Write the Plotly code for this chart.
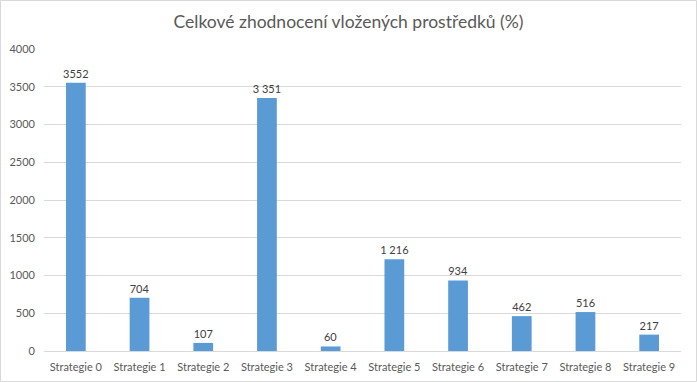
import plotly.graph_objects as go

categories = ["Strategie 0", "Strategie 1", "Strategie 2", "Strategie 3", "Strategie 4",
              "Strategie 5", "Strategie 6", "Strategie 7", "Strategie 8", "Strategie 9"]
values = [3552, 704, 107, 3351, 60, 1216, 934, 462, 516, 217]
value_labels = ["3552", "704", "107", "3 351", "60", "1 216", "934", "462", "516", "217"]
y_ticks = [0, 500, 1000, 1500, 2000, 2500, 3000, 3500, 4000]

W, H = 697, 382
L, R, T, B = 44, 16, 49, 31
pw, ph = W - L - R, H - T - B

fig = go.Figure(go.Bar(
    x=categories, y=values, text=value_labels, textposition="outside",
    constraintext="none", hoverinfo="skip",
    textfont=dict(family="Lato, Open Sans, sans-serif", size=11, color="#404040"),
    marker=dict(color="#5B9BD5", line=dict(width=0)),
    width=0.31, cliponaxis=False,
))

fig.update_layout(
    width=W, height=H,
    margin=dict(l=L, r=R, t=T, b=B, autoexpand=False),
    paper_bgcolor="white", plot_bgcolor="white",
    title=dict(text="Celkové zhodnocení vložených prostředků (%)", x=0.5, xanchor="center",
               y=1 - 22 / H, yanchor="middle",
               font=dict(family="Lato, Open Sans, sans-serif", size=17.5, color="#595959")),
    font=dict(family="Lato, Open Sans, sans-serif", size=11, color="#595959"),
    showlegend=False,
    xaxis=dict(showgrid=False, showline=True, linecolor="#D9D9D9", linewidth=1,
               ticks="", automargin=False, ticklabelstandoff=6,
               tickfont=dict(size=11, color="#595959")),
    yaxis=dict(range=[0, 4000], tickvals=y_ticks, showgrid=True, gridcolor="#D9D9D9",
               gridwidth=1, zeroline=False, showline=False, ticks="", automargin=False,
               tickfont=dict(size=11, color="#595959"), ticklabelstandoff=8),
    shapes=[dict(type="rect", xref="paper", yref="paper",
                 x0=(0.5 - L) / pw, x1=(W - 0.5 - L) / pw,
                 y0=(H - B - (H - 0.5)) / ph, y1=(H - B - 0.5) / ph,
                 line=dict(color="#D9D9D9", width=1), layer="below")],
)

fig.write_html("out.html", config={"displayModeBar": False},
               post_script="document.body.style.margin='0';")
